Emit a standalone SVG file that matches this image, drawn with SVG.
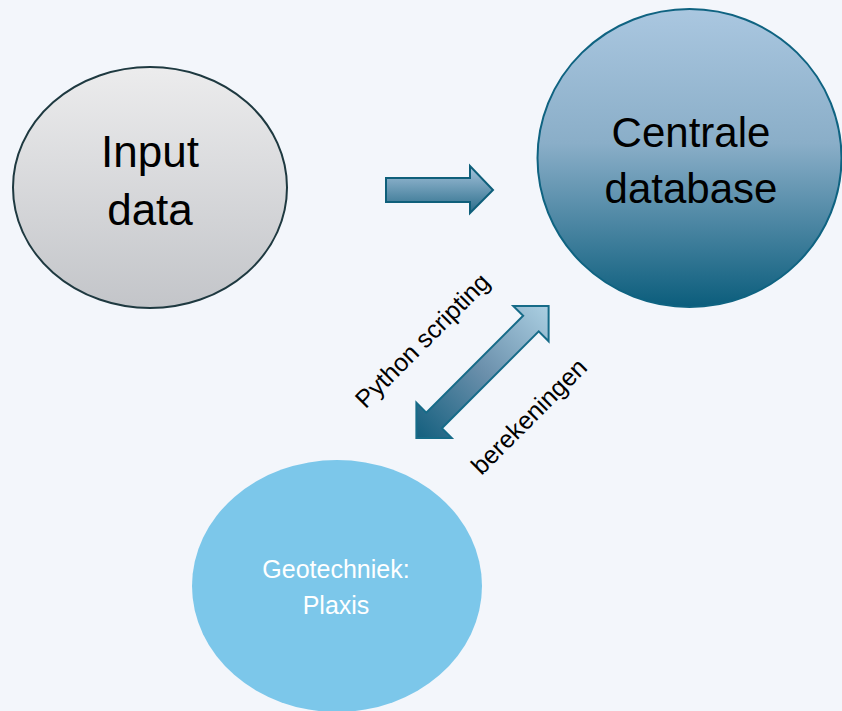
<svg xmlns="http://www.w3.org/2000/svg" width="842" height="711" viewBox="0 0 842 711">
  <defs>
    <linearGradient id="gGray" x1="0" y1="0" x2="0" y2="1">
      <stop offset="0" stop-color="#ececed"/>
      <stop offset="1" stop-color="#c3c5c9"/>
    </linearGradient>
    <linearGradient id="gBlue" x1="0" y1="0" x2="0" y2="1">
      <stop offset="0" stop-color="#aac7e0"/>
      <stop offset="0.45" stop-color="#8aaec8"/>
      <stop offset="1" stop-color="#0b5d7c"/>
    </linearGradient>
    <linearGradient id="gArrowR" x1="0" y1="0" x2="0" y2="1">
      <stop offset="0" stop-color="#a6c3dc"/>
      <stop offset="1" stop-color="#2a6d8a"/>
    </linearGradient>
    <linearGradient id="gArrowD" x1="0" y1="0" x2="1" y2="0">
      <stop offset="0" stop-color="#135f7e"/>
      <stop offset="0.5" stop-color="#6a8fab"/>
      <stop offset="1" stop-color="#abcfe2"/>
    </linearGradient>
    <style>
      .big { font-family: "Liberation Sans", Arial, sans-serif; fill: #000; text-anchor: middle; }
      .lbl { font-family: "Liberation Sans", Arial, sans-serif; font-size: 25px; fill: #000; text-anchor: middle; }
      .white { font-family: "Liberation Sans", Arial, sans-serif; font-size: 25px; fill: #ffffff; text-anchor: middle; }
    </style>
  </defs>
  <rect width="842" height="711" fill="#f3f6fb"/>

  <g id="input-data">
    <ellipse cx="150" cy="187.5" rx="137" ry="120.5" fill="url(#gGray)" stroke="#1e3940" stroke-width="2"/>
    <text class="big" x="150" y="167" font-size="44">Input</text>
    <text class="big" x="150" y="225" font-size="44">data</text>
  </g>

  <g id="centrale-database">
    <ellipse cx="689.5" cy="158" rx="152" ry="149" fill="url(#gBlue)" stroke="#0f6381" stroke-width="2"/>
    <text class="big" x="691" y="147" font-size="42">Centrale</text>
    <text class="big" x="691" y="203" font-size="42">database</text>
  </g>

  <g id="geotechniek-plaxis">
    <ellipse cx="337" cy="586" rx="145" ry="126" fill="#7cc7ea"/>
    <text class="white" x="336" y="578">Geotechniek:</text>
    <text class="white" x="336" y="614">Plaxis</text>
  </g>

  <g id="connectors">
    <path d="M386,178 L470,178 L470,166 L493,190 L470,213 L470,202 L386,202 Z" fill="url(#gArrowR)" stroke="#0e5f7a" stroke-width="2" stroke-linejoin="miter"/>
    <path transform="translate(482.5,372) rotate(-45)" d="M-93.5,0 L-68.5,-25 L-68.5,-11 L68.5,-11 L68.5,-25 L93.5,0 L68.5,25 L68.5,11 L-68.5,11 L-68.5,25 Z" fill="url(#gArrowD)" stroke="#166b88" stroke-width="2"/>
    <text class="lbl" transform="translate(428.5,346.5) rotate(-45)" x="0" y="0">Python scripting</text>
    <text class="lbl" transform="translate(535,422.5) rotate(-45)" x="0" y="0">berekeningen</text>
  </g>
</svg>
